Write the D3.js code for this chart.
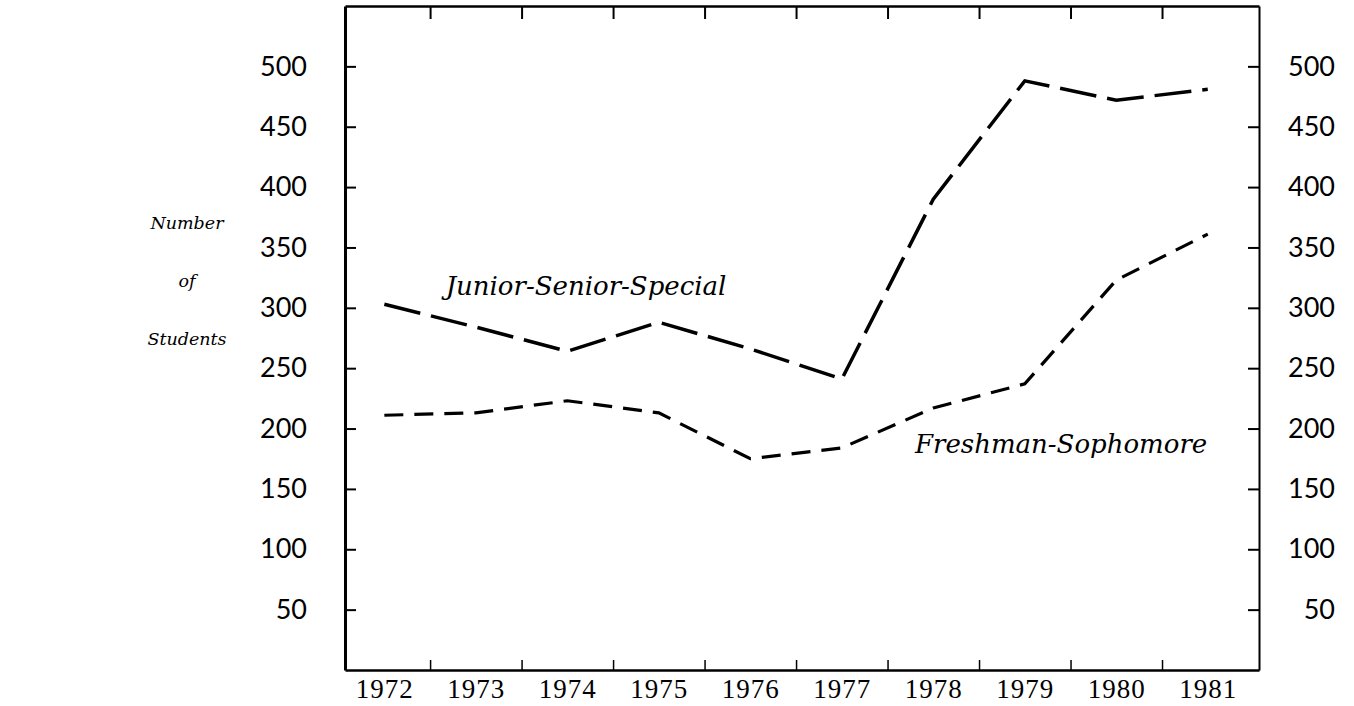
<!DOCTYPE html>
<html>
<head>
<meta charset="utf-8">
<script src="https://cdnjs.cloudflare.com/ajax/libs/d3/7.8.5/d3.min.js"></script>
<style>
  body { margin: 0; background: #fff; }
  .axis path, .axis line { stroke: #000; }
  .num text { font-family: Lato, sans-serif; font-size: 27px; fill: #000; }
  .years text { font-family: "Liberation Serif", serif; font-size: 27px; fill: #000; letter-spacing: 1px; }
  .ital { font-family: "DejaVu Serif", serif; font-style: italic; fill: #000; }
  .ytitle { font-family: "DejaVu Serif", serif; font-style: italic; fill: #000; }
</style>
</head>
<body>
<div class="chart"></div>
<script>
// Students per year
var years = [1972, 1973, 1974, 1975, 1976, 1977, 1978, 1979, 1980, 1981];
var juniorSeniorSpecial = [303, 284, 264, 288, 266, 241, 390, 488, 472, 481];
var freshmanSophomore = [211, 213, 223, 213, 175, 184, 217, 237, 323, 361];
var yTicks = [50, 100, 150, 200, 250, 300, 350, 400, 450, 500];
var betweenYears = [1972.5, 1973.5, 1974.5, 1975.5, 1976.5, 1977.5, 1978.5, 1979.5, 1980.5];
var sideLabel = ["Number", "of", "Students"];

var svgWidth = 1354;
var svgHeight = 706;
var margin = {top: 6, right: 95, bottom: 36, left: 345};
var width = svgWidth - margin.left - margin.right;
var height = svgHeight - margin.top - margin.bottom;

var svg = d3
  .select(".chart")
  .append("svg")
  .attr("width", svgWidth)
  .attr("height", svgHeight);

var chart = svg.append("g")
  .attr("transform", "translate(" + margin.left + "," + margin.top + ")");

// scales
var xScale = d3.scaleLinear().domain([1971.57, 1981.56]).range([0, width]);
var yScale = d3.scaleLinear().domain([0, 550]).range([height, 0]);

// left axis, ticks point inward
var leftAxis = d3.axisLeft(yScale).tickValues(yTicks)
  .tickSizeInner(-11).tickSizeOuter(0).tickPadding(38);
chart.append("g").attr("class", "axis num").call(leftAxis)
  .call(function(g) { g.select(".domain").attr("stroke-width", 3); })
  .call(function(g) { g.selectAll("line").attr("stroke-width", 2); });

// right axis, labels right aligned
var rightAxis = d3.axisRight(yScale).tickValues(yTicks)
  .tickSizeInner(-11).tickSizeOuter(0);
chart.append("g").attr("class", "axis num")
  .attr("transform", "translate(" + width + ",0)")
  .call(rightAxis)
  .call(function(g) { g.select(".domain").attr("stroke-width", 2); })
  .call(function(g) { g.selectAll("line").attr("stroke-width", 2); })
  .call(function(g) { g.selectAll("text").attr("text-anchor", "end").attr("x", 76); });

// bottom axis ticks between the years
var bottomAxis = d3.axisBottom(xScale).tickValues(betweenYears)
  .tickSizeInner(-10).tickSizeOuter(0).tickFormat("");
chart.append("g").attr("class", "axis")
  .attr("transform", "translate(0," + height + ")")
  .call(bottomAxis)
  .call(function(g) { g.select(".domain").attr("stroke-width", 2.5); })
  .call(function(g) { g.selectAll("line").attr("stroke-width", 1.5); });

// year labels
var yearAxis = d3.axisBottom(xScale).tickValues(years).tickSize(0)
  .tickPadding(9).tickFormat(d3.format("d"));
chart.append("g").attr("class", "axis years")
  .attr("transform", "translate(0," + height + ")")
  .call(yearAxis)
  .call(function(g) { g.select(".domain").remove(); });

// top axis
var topAxis = d3.axisTop(xScale).tickValues(betweenYears)
  .tickSizeInner(-13).tickSizeOuter(0).tickFormat("");
chart.append("g").attr("class", "axis")
  .call(topAxis)
  .call(function(g) { g.select(".domain").attr("stroke-width", 2.5); })
  .call(function(g) { g.selectAll("line").attr("stroke-width", 2); });

// lines
function makeLine(values) {
  return d3.line()
    .x(function(d, i) { return xScale(years[i]); })
    .y(function(d) { return yScale(d); })(values);
}

chart.append("path")
  .attr("d", makeLine(juniorSeniorSpecial))
  .attr("fill", "none")
  .attr("stroke", "#000")
  .attr("stroke-width", 3.5)
  .attr("stroke-dasharray", "37,11");

chart.append("path")
  .attr("d", makeLine(freshmanSophomore))
  .attr("fill", "none")
  .attr("stroke", "#000")
  .attr("stroke-width", 3.2)
  .attr("stroke-dasharray", "19,11");

// series labels
chart.append("text").attr("class", "ital")
  .attr("x", xScale(1972.67)).attr("y", yScale(311))
  .style("font-size", "26px")
  .text("Junior-Senior-Special");

chart.append("text").attr("class", "ital")
  .attr("x", xScale(1977.8)).attr("y", yScale(180))
  .style("font-size", "26px")
  .text("Freshman-Sophomore");

// y axis title on three lines
svg.selectAll(".ytitle")
  .data(sideLabel)
  .enter()
  .append("text")
  .attr("class", "ytitle")
  .attr("x", 187)
  .attr("y", function(d, i) { return 229 + i * 58; })
  .attr("text-anchor", "middle")
  .style("font-size", "17.5px")
  .text(function(d) { return d; });
</script>
</body>
</html>
